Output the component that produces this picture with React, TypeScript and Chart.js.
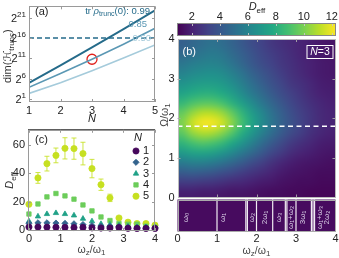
import React, { useEffect, useRef } from "react";
import { Chart, registerables } from "chart.js";
import { drawPoint } from "chart.js/helpers";

Chart.register(...registerables);

const FONT = "'Liberation Sans', 'DejaVu Sans', Arial, sans-serif";

// ---------------- Panel (a): log2 of truncated Hilbert-space dimension vs N
const A_N = [1, 2, 3, 4, 5];
const A_LOG2_DIM_099 = [5.0, 9.3, 13.7, 18.2, 22.8];
const A_LOG2_DIM_085 = [3.9, 7.3, 10.8, 14.5, 18.4];
const A_LOG2_DIM_050 = [2.4, 5.0, 8.0, 11.1, 14.3];
const A_LIMIT_LOG2 = 16;
const A_MARK_N = [3];
const A_MARK_LOG2 = [10.8];
const A_Y_TICKS = [1, 6, 11, 16, 21];
const A_X_TICKS = [1, 2, 3, 4, 5];
const A_TRACE_VALUES = ["0.99", "0.85", "0.50"];

// ---------------- Panel (c): D_eff vs wz/w1 for N = 1..5
const C_WZ = [0, 0.286, 0.571, 0.857, 1.143, 1.429, 1.714, 2.0, 2.286, 2.571, 2.857, 3.143, 3.429, 3.714, 4.0];
const C_N1 = [2.0, 2.0, 1.9, 1.8, 1.7, 1.6, 1.7, 1.4, 1.3, 1.3, 1.6, 1.1, 1.0, 1.0, 1.0];
const C_N2 = [4.7, 5.0, 5.0, 4.8, 4.6, 4.3, 3.8, 3.1, 2.6, 2.5, 2.4, 2.0, 1.8, 1.6, 1.5];
const C_N3 = [6.1, 9.5, 11.2, 11.9, 11.2, 10.2, 7.9, 6.1, 4.2, 3.8, 3.2, 2.4, 2.0, 2.0, 1.6];
const C_N4 = [11.2, 18.3, 23.3, 25.7, 24.0, 21.7, 17.6, 13.4, 9.1, 6.6, 4.5, 4.0, 4.0, 2.6, 1.9];
const C_N5 = [18.1, 36.7, 46.8, 52.6, 57.6, 57.4, 53.9, 43.3, 31.9, 22.6, 8.4, 5.4, 4.5, 4.5, 3.3];
const C_N5_ERR = [0.8, 3.8, 5.2, 5.2, 7.5, 7.5, 8.0, 6.5, 4.0, 2.6, 1.0, 0.8, 0.6, 0.6, 0.5];
const C_SERIES_NAMES = ["1", "2", "3", "4", "5"];
const C_Y_TICKS = [0, 20, 40, 60];
const C_X_TICKS = [0, 1, 2, 3, 4];

// ---------------- Panel (b): D_eff heat map over (wz/w1, Omega/w1), N = 3
const B_WZ_CENTERS = [0.125, 0.375, 0.625, 0.875, 1.125, 1.375, 1.625, 1.875, 2.125, 2.375, 2.625, 2.875, 3.125, 3.375, 3.625, 3.875];
const B_OMEGA_CENTERS = [3.875, 3.625, 3.375, 3.125, 2.875, 2.625, 2.375, 2.125, 1.875, 1.625, 1.375, 1.125, 0.875, 0.625, 0.375, 0.125];
const B_DEFF = [
  [4.4, 4.7, 5.0, 5.2, 5.0, 4.6, 4.1, 3.6, 3.2, 2.8, 2.5, 2.3, 2.1, 1.9, 1.7, 1.6],
  [4.8, 5.1, 5.4, 5.6, 5.4, 4.9, 4.4, 3.9, 3.4, 3.0, 2.7, 2.4, 2.1, 1.9, 1.7, 1.6],
  [5.4, 5.7, 5.9, 6.0, 5.8, 5.3, 4.7, 4.1, 3.6, 3.2, 2.8, 2.5, 2.2, 2.0, 1.8, 1.7],
  [6.0, 6.3, 6.5, 6.6, 6.4, 5.9, 5.3, 4.6, 4.0, 3.5, 3.0, 2.6, 2.3, 2.0, 1.8, 1.7],
  [6.7, 7.0, 7.2, 7.2, 7.0, 6.5, 5.8, 5.1, 4.4, 3.8, 3.3, 2.8, 2.5, 2.2, 1.9, 1.8],
  [7.5, 7.9, 8.1, 8.1, 7.8, 7.2, 6.4, 5.6, 4.9, 4.2, 3.6, 3.1, 2.7, 2.3, 2.0, 1.9],
  [8.5, 9.1, 9.4, 9.4, 9.0, 8.2, 7.3, 6.4, 5.5, 4.7, 4.0, 3.4, 2.9, 2.5, 2.2, 2.0],
  [9.6, 10.5, 11.1, 11.1, 10.6, 9.6, 8.4, 7.2, 6.2, 5.2, 4.4, 3.7, 3.1, 2.7, 2.3, 2.1],
  [10.1, 11.4, 12.1, 12.1, 11.5, 10.3, 8.9, 7.6, 6.4, 5.4, 4.5, 3.8, 3.2, 2.7, 2.3, 2.1],
  [9.4, 10.4, 10.9, 10.8, 10.2, 9.2, 8.0, 6.9, 5.9, 5.0, 4.2, 3.5, 3.0, 2.5, 2.2, 2.0],
  [8.3, 8.9, 9.2, 9.0, 8.5, 7.7, 6.8, 5.9, 5.0, 4.2, 3.5, 2.9, 2.5, 2.2, 1.9, 1.8],
  [7.0, 7.4, 7.5, 7.3, 6.8, 6.2, 5.5, 4.8, 4.1, 3.4, 2.9, 2.4, 2.1, 1.9, 1.7, 1.6],
  [5.6, 5.8, 5.8, 5.6, 5.2, 4.7, 4.2, 3.6, 3.1, 2.6, 2.2, 1.9, 1.7, 1.6, 1.5, 1.4],
  [4.2, 4.3, 4.2, 4.0, 3.7, 3.4, 3.0, 2.7, 2.4, 2.1, 1.8, 1.6, 1.5, 1.4, 1.3, 1.3],
  [2.9, 2.9, 2.8, 2.7, 2.5, 2.3, 2.2, 2.0, 1.8, 1.7, 1.5, 1.4, 1.3, 1.3, 1.2, 1.2],
  [1.9, 1.9, 1.8, 1.8, 1.7, 1.6, 1.6, 1.5, 1.4, 1.3, 1.3, 1.2, 1.2, 1.1, 1.1, 1.1],
];
const B_DASH_OMEGA = 1.8;
const B_CBAR_MIN = 0.95;
const B_CBAR_MAX = 12.3;
const B_CBAR_TICKS = [2, 4, 6, 8, 10, 12];
const B_X_TICKS = [0, 1, 2, 3, 4];
const B_Y_TICKS = [0, 1, 2, 3, 4];
const B_RES_LINES = [1.0, 1.73, 1.77, 2.0, 2.41, 2.73, 2.77, 3.0, 3.39, 3.43, 3.47];
const B_RES_LABEL_X = [0.2, 1.15, 1.87, 2.2, 2.56, 2.86, 3.18, 3.6, 3.79];
const B_RES_LABEL_TEXT = ["ω₀", "ω₁", "ω₂", "2ω₁", "ω₃", "ω₁+ω₂", "3ω₁", "ω₁+ω₃", "2ω₂"];

// ---------------- styling helpers
const VIRIDIS = ["#440154", "#482475", "#414487", "#355f8d", "#2a788e", "#21918c", "#22a884", "#44bf70", "#7ad151", "#bddf26", "#fde725"];
const hexRgb = (h: string) => [parseInt(h.slice(1, 3), 16), parseInt(h.slice(3, 5), 16), parseInt(h.slice(5, 7), 16)];
function viridis(t: number): number[] {
  const tt = Math.max(0, Math.min(1, t));
  const f = tt * 10;
  const i = Math.min(9, Math.floor(f));
  const r = f - i;
  const a = hexRgb(VIRIDIS[i]);
  const b = hexRgb(VIRIDIS[i + 1]);
  return [0, 1, 2].map((k) => Math.round(a[k] + (b[k] - a[k]) * r));
}

type Part = { t: string; sub?: boolean; sup?: boolean; it?: boolean };
function drawRich(ctx: CanvasRenderingContext2D, parts: Part[], x: number, y: number, size: number, color: string, align: "left" | "center" | "right" = "left") {
  ctx.save();
  ctx.fillStyle = color;
  ctx.textBaseline = "middle";
  ctx.textAlign = "left";
  const fontFor = (p: Part) => `${p.it ? "italic " : ""}${p.sub || p.sup ? Math.round(size * 0.72) : size}px ${FONT}`;
  let w = 0;
  for (const p of parts) {
    ctx.font = fontFor(p);
    w += ctx.measureText(p.t).width;
  }
  let cx = align === "left" ? x : align === "center" ? x - w / 2 : x - w;
  for (const p of parts) {
    ctx.font = fontFor(p);
    const dy = p.sub ? size * 0.3 : p.sup ? -size * 0.38 : 0;
    ctx.fillText(p.t, cx, y + dy);
    cx += ctx.measureText(p.t).width;
  }
  ctx.restore();
}
function drawRotated(ctx: CanvasRenderingContext2D, parts: Part[], x: number, y: number, size: number, color: string) {
  ctx.save();
  ctx.translate(x, y);
  ctx.rotate(-Math.PI / 2);
  drawRich(ctx, parts, 0, 0, size, color, "center");
  ctx.restore();
}
function frame(ctx: CanvasRenderingContext2D, a: any, color: string, lw = 1) {
  ctx.save();
  ctx.strokeStyle = color;
  ctx.lineWidth = lw;
  ctx.strokeRect(Math.round(a.left) + 0.5, Math.round(a.top) + 0.5, Math.round(a.right) - Math.round(a.left) - 1, Math.round(a.bottom) - Math.round(a.top) - 1);
  ctx.restore();
}
function ticksIn(ctx: CanvasRenderingContext2D, chart: any, xt: number[], yt: number[], color: string, len = 3) {
  const a = chart.chartArea;
  const { x, y } = chart.scales;
  ctx.save();
  ctx.strokeStyle = color;
  ctx.lineWidth = 1;
  ctx.beginPath();
  for (const v of xt) {
    const px = Math.round(x.getPixelForValue(v)) + 0.5;
    ctx.moveTo(px, a.bottom); ctx.lineTo(px, a.bottom - len);
    ctx.moveTo(px, a.top); ctx.lineTo(px, a.top + len);
  }
  for (const v of yt) {
    const py = Math.round(y.getPixelForValue(v)) + 0.5;
    ctx.moveTo(a.left, py); ctx.lineTo(a.left + len, py);
    ctx.moveTo(a.right, py); ctx.lineTo(a.right - len, py);
  }
  ctx.stroke();
  ctx.restore();
}

function baseOptions(padding: any, xmin: number, xmax: number, ymin: number, ymax: number): any {
  return {
    responsive: false,
    animation: false,
    devicePixelRatio: 1,
    events: [],
    layout: { padding },
    plugins: { legend: { display: false }, tooltip: { enabled: false } },
    scales: {
      x: { type: "linear", display: false, min: xmin, max: xmax },
      y: { type: "linear", display: false, min: ymin, max: ymax },
    },
  };
}

const DARK = "#256b8a";
const MID = "#5b98b4";
const LIGHT = "#a5cbdb";
const TXT = "#222";
const FRAME = "#9a9a9a";

function makeA(canvas: HTMLCanvasElement) {
  const pts = (ys: number[]) => A_N.map((n, i) => ({ x: n, y: ys[i] }));
  const plugin = {
    id: "panelA",
    afterDraw(chart: any) {
      const ctx = chart.ctx as CanvasRenderingContext2D;
      const a = chart.chartArea;
      const { x, y } = chart.scales;
      frame(ctx, a, FRAME);
      ticksIn(ctx, chart, A_X_TICKS, A_Y_TICKS, FRAME);
      for (const e of A_Y_TICKS) drawRich(ctx, [{ t: "2" }, { t: String(e), sup: true }], a.left - 3, y.getPixelForValue(e) + 1, 11, TXT, "right");
      for (const n of A_X_TICKS) drawRich(ctx, [{ t: String(n) }], x.getPixelForValue(n), a.bottom + 9, 11, TXT, "center");
      drawRich(ctx, [{ t: "N", it: true }], (a.left + a.right) / 2, a.bottom + 17, 11, TXT, "center");
      drawRotated(ctx, [{ t: "dim(" }, { t: "ℋ" }, { t: "trunc", sub: true }, { t: ")" }], 8, (a.top + a.bottom) / 2 + 2, 11, "#333");
      drawRich(ctx, [{ t: "(a)" }], a.left + 6, 12, 11, TXT, "left");
      drawRich(ctx, [{ t: "tr " }, { t: "ρ", it: true }, { t: "trunc", sub: true }, { t: "(0): " + A_TRACE_VALUES[0] }], 150, 11, 9.5, DARK, "right");
      drawRich(ctx, [{ t: A_TRACE_VALUES[1] }], 147, 24, 9.5, MID, "right");
      drawRich(ctx, [{ t: A_TRACE_VALUES[2] }], 151, 38.5, 9.5, LIGHT, "right");
    },
  };
  return new Chart(canvas, {
    type: "scatter",
    data: {
      datasets: [
        { data: [{ x: A_N[0], y: A_LIMIT_LOG2 }, { x: A_N[A_N.length - 1], y: A_LIMIT_LOG2 }], showLine: true, borderColor: DARK, borderWidth: 1.6, borderDash: [5, 3], pointRadius: 0 },
        { data: pts(A_LOG2_DIM_050), showLine: true, borderColor: LIGHT, borderWidth: 1.6, pointRadius: 0 },
        { data: pts(A_LOG2_DIM_085), showLine: true, borderColor: MID, borderWidth: 1.6, pointRadius: 0 },
        { data: pts(A_LOG2_DIM_099), showLine: true, borderColor: DARK, borderWidth: 1.9, pointRadius: 0 },
        { data: A_MARK_N.map((n, i) => ({ x: n, y: A_MARK_LOG2[i] })), pointRadius: 5, pointBorderColor: "#e0201b", pointBackgroundColor: "rgba(0,0,0,0)", pointBorderWidth: 1.3 },
      ],
    },
    options: baseOptions({ left: 29, top: 1, right: 15, bottom: 23 }, 1, 5, 0.3, 23.8),
    plugins: [plugin],
  } as any);
}

const C_COLORS = ["#46085c", "#33638d", "#1fa187", "#6ccd5a", "#c6e021"];
const C_STYLES = ["circle", "rectRot", "triangle", "rect", "circle"];
const C_SERIES = [C_N1, C_N2, C_N3, C_N4, C_N5];

function makeC(canvas: HTMLCanvasElement) {
  const plugin = {
    id: "panelC",
    beforeDatasetsDraw(chart: any) {
      const ctx = chart.ctx as CanvasRenderingContext2D;
      const { x, y } = chart.scales;
      ctx.save();
      ctx.strokeStyle = "rgba(198,224,33,0.85)";
      ctx.lineWidth = 1;
      ctx.beginPath();
      C_WZ.forEach((w, i) => {
        const px = x.getPixelForValue(w);
        const y0 = y.getPixelForValue(C_N5[i] - C_N5_ERR[i]);
        const y1 = y.getPixelForValue(C_N5[i] + C_N5_ERR[i]);
        ctx.moveTo(px, y0); ctx.lineTo(px, y1);
        ctx.moveTo(px - 2.5, y0); ctx.lineTo(px + 2.5, y0);
        ctx.moveTo(px - 2.5, y1); ctx.lineTo(px + 2.5, y1);
      });
      ctx.stroke();
      ctx.restore();
    },
    afterDraw(chart: any) {
      const ctx = chart.ctx as CanvasRenderingContext2D;
      const a = chart.chartArea;
      const { x, y } = chart.scales;
      frame(ctx, a, FRAME);
      ctx.save();
      ctx.strokeStyle = "#333";
      ctx.beginPath();
      ctx.moveTo(a.left, Math.round(a.top) - 0.5);
      ctx.lineTo(a.right, Math.round(a.top) - 0.5);
      ctx.stroke();
      ctx.restore();
      ticksIn(ctx, chart, C_X_TICKS, C_Y_TICKS, FRAME);
      for (const v of C_Y_TICKS) drawRich(ctx, [{ t: String(v) }], a.left - 3, y.getPixelForValue(v), 11, TXT, "right");
      for (const v of C_X_TICKS) drawRich(ctx, [{ t: String(v) }], x.getPixelForValue(v), a.bottom + 8, 11, TXT, "center");
      drawRich(ctx, [{ t: "ω" }, { t: "z", sub: true }, { t: "/ω" }, { t: "1", sub: true }], (a.left + a.right) / 2, a.bottom + 19, 10.5, "#444", "center");
      drawRotated(ctx, [{ t: "D", it: true }, { t: "eff", sub: true }], 10, (a.top + a.bottom) / 2, 11, "#333");
      drawRich(ctx, [{ t: "(c)" }], a.left + 7, 15, 11, TXT, "left");
      drawRich(ctx, [{ t: "N", it: true }], 138, 13, 11, TXT, "center");
      C_SERIES_NAMES.forEach((name, i) => {
        const ly = 26 + i * 11.3;
        ctx.save();
        ctx.fillStyle = C_COLORS[i];
        ctx.strokeStyle = C_COLORS[i];
        drawPoint(ctx, { pointStyle: C_STYLES[i] as any, rotation: 0, radius: 3.1, borderWidth: 0.8 }, 136, ly);
        ctx.restore();
        drawRich(ctx, [{ t: name }], 143, ly, 11, TXT, "left");
      });
    },
  };
  return new Chart(canvas, {
    type: "scatter",
    data: {
      datasets: C_SERIES.map((s, i) => ({
        data: C_WZ.map((w, j) => ({ x: w, y: s[j] })),
        pointStyle: C_STYLES[i],
        pointRadius: 3.1,
        pointBackgroundColor: C_COLORS[i],
        pointBorderColor: C_COLORS[i],
        pointBorderWidth: 0.8,
        clip: false,
      })),
    },
    options: baseOptions({ left: 28, top: 3, right: 15, bottom: 27 }, -0.03, 4.0, -0.8, 70.7),
    plugins: [plugin],
  } as any);
}

function makeCbar(canvas: HTMLCanvasElement) {
  const plugin = {
    id: "cbar",
    afterDraw(chart: any) {
      const ctx = chart.ctx as CanvasRenderingContext2D;
      const a = chart.chartArea;
      const { x } = chart.scales;
      for (let px = Math.floor(a.left); px < Math.ceil(a.right); px++) {
        const v = x.getValueForPixel(px + 0.5);
        const c = viridis((v - B_CBAR_MIN) / (B_CBAR_MAX - B_CBAR_MIN));
        ctx.fillStyle = `rgb(${c[0]},${c[1]},${c[2]})`;
        ctx.fillRect(px, a.top, 1, a.bottom - a.top);
      }
      frame(ctx, a, "#888");
      ctx.save();
      ctx.strokeStyle = "rgba(200,200,200,0.9)";
      ctx.beginPath();
      for (const v of B_CBAR_TICKS) {
        const px = Math.round(x.getPixelForValue(v)) + 0.5;
        ctx.moveTo(px, a.top + 1); ctx.lineTo(px, a.top + 3);
        ctx.moveTo(px, a.bottom - 1); ctx.lineTo(px, a.bottom - 3);
      }
      ctx.stroke();
      ctx.restore();
      for (const v of B_CBAR_TICKS) drawRich(ctx, [{ t: String(v) }], x.getPixelForValue(v), a.top - 6, 11, TXT, "center");
      drawRich(ctx, [{ t: "D", it: true }, { t: "eff", sub: true }], 87, 7, 11, TXT, "center");
    },
  };
  return new Chart(canvas, {
    type: "scatter",
    data: { datasets: [] },
    options: baseOptions({ left: 7, top: 23, right: 3, bottom: 6 }, B_CBAR_MIN, B_CBAR_MAX, 0, 1),
    plugins: [plugin],
  } as any);
}

function makeHeat(canvas: HTMLCanvasElement) {
  const plugin = {
    id: "heat",
    beforeDatasetsDraw(chart: any) {
      const ctx = chart.ctx as CanvasRenderingContext2D;
      const a = chart.chartArea;
      const { x, y } = chart.scales;
      const rows = B_DEFF.length;
      const cols = B_DEFF[0].length;
      const off = document.createElement("canvas");
      off.width = cols;
      off.height = rows;
      const octx = off.getContext("2d")!;
      const img = octx.createImageData(cols, rows);
      for (let r = 0; r < rows; r++)
        for (let c = 0; c < cols; c++) {
          const col = viridis((B_DEFF[r][c] - B_CBAR_MIN) / (B_CBAR_MAX - B_CBAR_MIN));
          const k = (r * cols + c) * 4;
          img.data[k] = col[0]; img.data[k + 1] = col[1]; img.data[k + 2] = col[2]; img.data[k + 3] = 255;
        }
      octx.putImageData(img, 0, 0);
      const hx = (B_WZ_CENTERS[1] - B_WZ_CENTERS[0]) / 2;
      const hy = (B_OMEGA_CENTERS[0] - B_OMEGA_CENTERS[1]) / 2;
      const x0 = x.getPixelForValue(B_WZ_CENTERS[0] - hx);
      const x1 = x.getPixelForValue(B_WZ_CENTERS[cols - 1] + hx);
      const y0 = y.getPixelForValue(B_OMEGA_CENTERS[0] + hy);
      const y1 = y.getPixelForValue(B_OMEGA_CENTERS[rows - 1] - hy);
      ctx.save();
      ctx.beginPath();
      ctx.rect(a.left, a.top, a.right - a.left, a.bottom - a.top);
      ctx.clip();
      ctx.imageSmoothingEnabled = true;
      (ctx as any).imageSmoothingQuality = "high";
      ctx.drawImage(off, x0, y0, x1 - x0, y1 - y0);
      ctx.restore();
    },
    afterDraw(chart: any) {
      const ctx = chart.ctx as CanvasRenderingContext2D;
      const a = chart.chartArea;
      const { y } = chart.scales;
      frame(ctx, a, "#bbb");
      ticksIn(ctx, chart, B_X_TICKS.slice(1, -1), B_Y_TICKS.slice(1, -1), "rgba(170,170,170,0.9)");
      for (const v of B_Y_TICKS) drawRich(ctx, [{ t: String(v) }], a.left - 3, y.getPixelForValue(v), 11, TXT, "right");
      drawRotated(ctx, [{ t: "Ω/ω" }, { t: "1", sub: true }], 10, 85, 10.5, "#444");
      drawRich(ctx, [{ t: "(b)" }], a.left + 5, a.top + 13, 11, "#fff", "left");
      ctx.save();
      ctx.strokeStyle = "#fff";
      ctx.lineWidth = 1;
      ctx.strokeRect(a.right - 28.5, a.top + 6.5, 26, 13);
      ctx.restore();
      drawRich(ctx, [{ t: "N", it: true }, { t: "=3" }], a.right - 15.5, a.top + 13, 10.5, "#fff", "center");
    },
  };
  return new Chart(canvas, {
    type: "scatter",
    data: {
      datasets: [
        { data: [{ x: B_X_TICKS[0], y: B_DASH_OMEGA }, { x: B_X_TICKS[B_X_TICKS.length - 1], y: B_DASH_OMEGA }], showLine: true, borderColor: "#fff", borderWidth: 1.6, borderDash: [5, 3.5], pointRadius: 0 },
      ],
    },
    options: baseOptions({ left: 22.5, top: 9, right: 3.5, bottom: 7.5 }, 0, 4, 0, 4),
    plugins: [plugin],
  } as any);
}

function makeStrip(canvas: HTMLCanvasElement) {
  const plugin = {
    id: "strip",
    afterDraw(chart: any) {
      const ctx = chart.ctx as CanvasRenderingContext2D;
      const a = chart.chartArea;
      const { x } = chart.scales;
      ctx.save();
      ctx.fillStyle = "#470b5f";
      ctx.fillRect(a.left, a.top, a.right - a.left, a.bottom - a.top);
      ctx.strokeStyle = "rgba(255,255,255,0.92)";
      ctx.lineWidth = 1.2;
      ctx.beginPath();
      for (const v of B_RES_LINES) {
        const px = x.getPixelForValue(v);
        ctx.moveTo(px, a.top);
        ctx.lineTo(px, a.bottom);
      }
      ctx.stroke();
      ctx.restore();
      B_RES_LABEL_TEXT.forEach((t, i) => {
        drawRotated(ctx, [{ t }], x.getPixelForValue(B_RES_LABEL_X[i]), (a.top + a.bottom) / 2 + 2, 8, "#d9cfe6");
      });
      frame(ctx, a, "#aaa");
      for (const v of B_X_TICKS) drawRich(ctx, [{ t: String(v) }], x.getPixelForValue(v), a.bottom + 7, 11, TXT, "center");
      drawRich(ctx, [{ t: "ω" }, { t: "z", sub: true }, { t: "/ω" }, { t: "1", sub: true }], (a.left + a.right) / 2, a.bottom + 19.5, 10.5, "#444", "center");
    },
  };
  return new Chart(canvas, {
    type: "scatter",
    data: { datasets: [] },
    options: baseOptions({ left: 22.5, top: 4.5, right: 3.5, bottom: 26.5 }, 0, 4, 0, 1),
    plugins: [plugin],
  } as any);
}

export default function App() {
  const aRef = useRef<HTMLCanvasElement>(null);
  const cRef = useRef<HTMLCanvasElement>(null);
  const barRef = useRef<HTMLCanvasElement>(null);
  const heatRef = useRef<HTMLCanvasElement>(null);
  const stripRef = useRef<HTMLCanvasElement>(null);
  useEffect(() => {
    const charts = [
      makeA(aRef.current!),
      makeC(cRef.current!),
      makeCbar(barRef.current!),
      makeHeat(heatRef.current!),
      makeStrip(stripRef.current!),
    ];
    return () => charts.forEach((c) => c.destroy());
  }, []);
  const abs = (left: number, top: number): React.CSSProperties => ({ position: "absolute", left, top });
  return (
    <div style={{ position: "absolute", left: 0, top: 0, width: 339, height: 258, background: "#fff", overflow: "hidden" }}>
      <canvas ref={aRef} width={170} height={125} style={abs(0, 0)} />
      <canvas ref={cRef} width={170} height={133} style={abs(0, 125)} />
      <canvas ref={heatRef} width={184} height={175} style={abs(155, 30)} />
      <canvas ref={stripRef} width={184} height={63} style={abs(155, 195)} />
      <canvas ref={barRef} width={169} height={42} style={abs(170, 0)} />
    </div>
  );
}
